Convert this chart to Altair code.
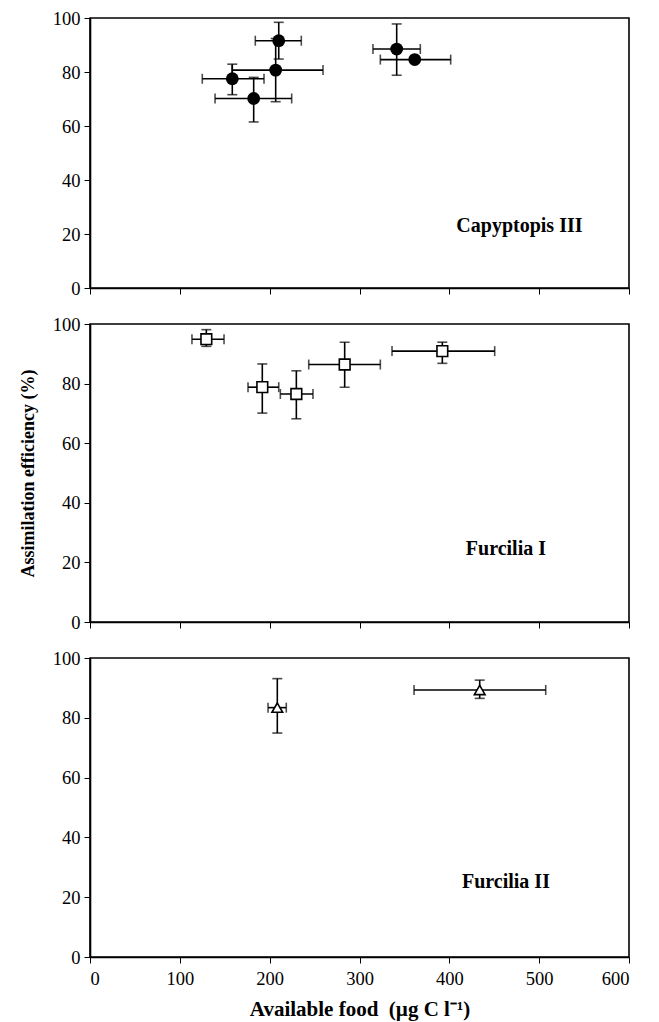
import altair as alt
import pandas as pd

# Capyptopis III (filled circles)
c3_x = [210.1, 206.7, 158.4, 182.2, 341.4, 361.5]
c3_y = [91.6, 80.7, 77.5, 70.2, 88.5, 84.6]
c3_xlo = [184.0, 158.1, 125.0, 139.2, 315.0, 323.2]
c3_xhi = [235.2, 259.4, 193.7, 224.5, 367.7, 401.5]
c3_ylo = [84.8, 69.0, 71.6, 61.5, 78.8, 84.6]
c3_yhi = [98.4, 92.4, 82.9, 78.0, 97.8, 84.6]

# Furcilia I (open squares)
f1_x = [129.5, 191.8, 229.7, 283.5, 392.2]
f1_y = [94.9, 78.8, 76.5, 86.4, 90.9]
f1_xlo = [113.5, 175.9, 211.9, 243.5, 336.2]
f1_xhi = [149.2, 210.1, 248.2, 323.2, 450.5]
f1_ylo = [92.5, 70.1, 68.2, 78.8, 86.8]
f1_yhi = [98.1, 86.6, 84.3, 93.9, 93.9]

# Furcilia II (open triangles)
f2_x = [208.5, 433.8]
f2_y = [83.4, 89.3]
f2_xlo = [198.2, 360.7]
f2_xhi = [218.5, 507.3]
f2_ylo = [74.9, 86.5]
f2_yhi = [93.1, 92.6]

panel_labels = ["Capyptopis III", "Furcilia I", "Furcilia II"]
label_x = [478, 463, 463]
label_y = [23, 24.5, 25]

x_ticks = [0, 100, 200, 300, 400, 500, 600]
y_ticks = [0, 20, 40, 60, 80, 100]

FONT = "Liberation Serif"


def make_df(x, y, xlo, xhi, ylo, yhi):
    return pd.DataFrame({"x": x, "y": y, "xlo": xlo, "xhi": xhi, "ylo": ylo, "yhi": yhi})


def panel(df, shape, filled, idx, height, show_x, show_ytitle):
    xaxis = alt.Axis(values=x_ticks, labels=show_x, grid=False,
                     title="Available food\u00a0 (µg C l⁻¹)" if show_x else None)
    yaxis = alt.Axis(values=y_ticks, grid=False,
                     title="Assimilation efficiency (%)" if show_ytitle else None)
    xs = alt.Scale(domain=[0, 600], nice=False)
    ys = alt.Scale(domain=[0, 100], nice=False)
    base = alt.Chart(df)

    def X(f):
        return alt.X(f + ":Q", scale=xs, axis=xaxis)

    def Y(f):
        return alt.Y(f + ":Q", scale=ys, axis=yaxis)

    hrule = base.mark_rule(color="black", strokeWidth=1.6).encode(x=X("xlo"), x2="xhi:Q", y=Y("y"))
    vrule = base.mark_rule(color="black", strokeWidth=1.6).encode(x=X("x"), y=Y("ylo"), y2="yhi:Q")
    capl = base.mark_tick(color="black", orient="vertical", size=10, thickness=1.6).encode(x=X("xlo"), y=Y("y"))
    capr = base.mark_tick(color="black", orient="vertical", size=10, thickness=1.6).encode(x=X("xhi"), y=Y("y"))
    capb = base.mark_tick(color="black", orient="horizontal", size=10, thickness=1.6).encode(x=X("x"), y=Y("ylo"))
    capt = base.mark_tick(color="black", orient="horizontal", size=10, thickness=1.6).encode(x=X("x"), y=Y("yhi"))
    if filled:
        pts = base.mark_point(shape=shape, filled=True, color="black", size=165, opacity=1).encode(x=X("x"), y=Y("y"))
    else:
        pts = base.mark_point(shape=shape, filled=True, fill="white", stroke="black",
                              strokeWidth=1.6, size=115, opacity=1).encode(x=X("x"), y=Y("y"))
    lab_df = pd.DataFrame({"lx": [label_x[idx]], "ly": [label_y[idx]], "t": [panel_labels[idx]]})
    lab = alt.Chart(lab_df).mark_text(font=FONT, fontWeight="bold", fontSize=20, color="black").encode(
        x=X("lx"), y=Y("ly"), text="t:N")
    return alt.layer(hrule, vrule, capl, capr, capb, capt, pts, lab).properties(width=539, height=height)


p1 = panel(make_df(c3_x, c3_y, c3_xlo, c3_xhi, c3_ylo, c3_yhi), "circle", True, 0, 270, False, False)
p2 = panel(make_df(f1_x, f1_y, f1_xlo, f1_xhi, f1_ylo, f1_yhi), "square", False, 1, 298, False, True)
p3 = panel(make_df(f2_x, f2_y, f2_xlo, f2_xhi, f2_ylo, f2_yhi), "triangle-up", False, 2, 299, True, False)

chart = alt.vconcat(p1, p2, p3, spacing=36, bounds="flush").properties(
    padding={"top": 0, "left": 10, "right": 5, "bottom": 0}
).configure_view(stroke="black", strokeWidth=1.6).configure_axis(
    labelFont=FONT, labelFontSize=18.5, labelColor="black",
    titleFont=FONT, titleFontSize=18, titleFontWeight="bold", titleColor="black",
    domainColor="black", domainWidth=1.6, tickColor="black", tickSize=6, tickWidth=1,
    labelPadding=4,
).configure_axisY(titlePadding=15).configure_axisX(titlePadding=11, labelPadding=6, titleFontSize=21)

chart.save("out.html", embed_options={"renderer": "svg", "actions": False})
